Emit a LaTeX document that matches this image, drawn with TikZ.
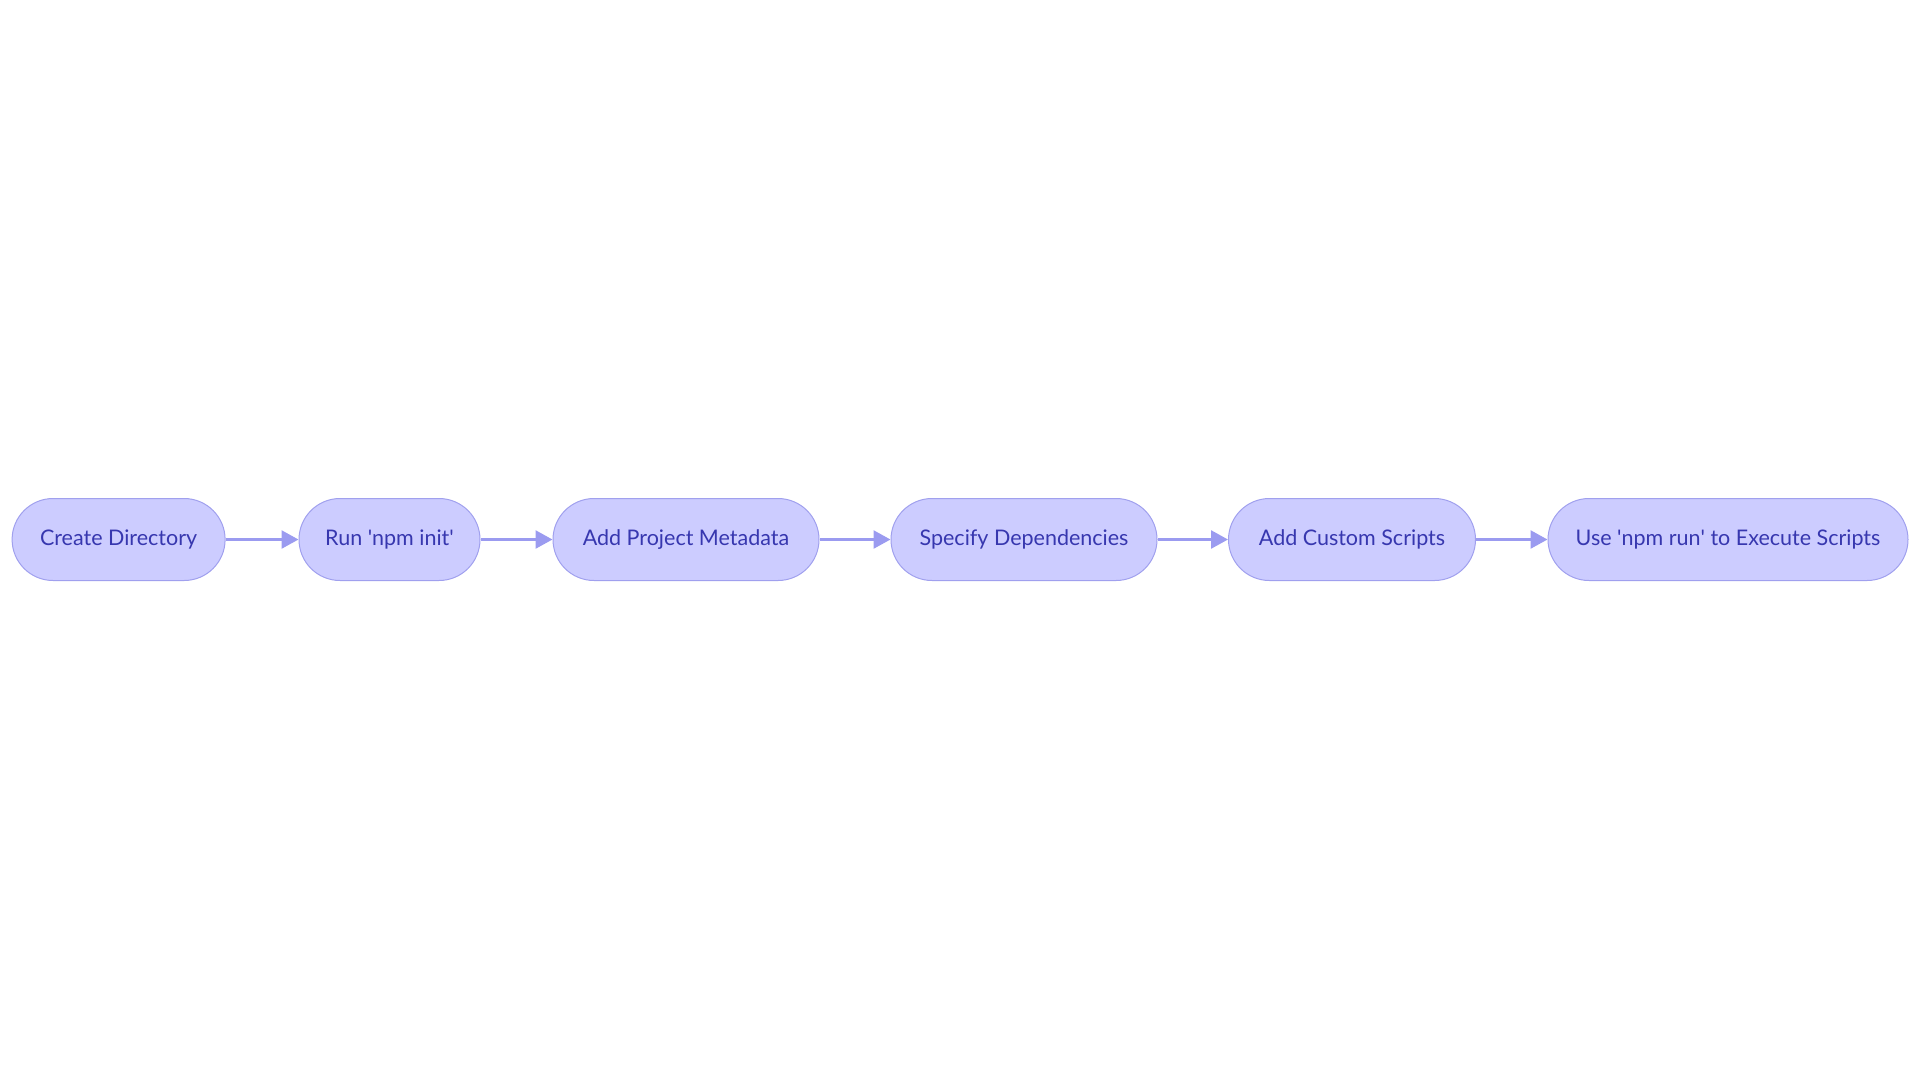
\documentclass[tikz,border=0pt]{standalone}
\usepackage{fontspec}
\setmainfont{Lato}
\usetikzlibrary{arrows.meta}
\definecolor{nodefill}{RGB}{204,204,255}
\definecolor{nodeline}{RGB}{160,160,238}
\definecolor{arrowcol}{RGB}{155,155,240}
\definecolor{textcol}{RGB}{55,55,175}
\newcommand{\sq}{\textquotesingle}
\tikzset{
  stepbox/.style={draw=nodeline, line width=1pt, fill=nodefill, rounded corners=41pt,
    minimum height=82pt, inner sep=0pt, text=textcol,
    font=\fontsize{21.5}{26}\selectfont},
  flow/.style={draw=arrowcol, line width=2.6pt, -{Triangle[length=17pt,width=18pt]}}
}
\begin{document}
\begin{tikzpicture}[x=1pt,y=-1pt]
\useasboundingbox (0,0) rectangle (1920,1080);
\node[stepbox, minimum width=213pt] (a) at (118.6,539.5) {\raisebox{-1pt}{Create Directory}};
\node[stepbox, minimum width=181pt] (b) at (389.5,539.5) {\raisebox{-1pt}{Run \sq npm init\sq}};
\node[stepbox, minimum width=266pt] (c) at (686,539.5) {\raisebox{-1pt}{Add Project Metadata}};
\node[stepbox, minimum width=266pt] (d) at (1024,539.5) {\raisebox{-1pt}{Specify Dependencies}};
\node[stepbox, minimum width=247pt] (e) at (1352,539.5) {\raisebox{-1pt}{Add Custom Scripts}};
\node[stepbox, minimum width=360pt] (f) at (1728,539.5) {\raisebox{-1pt}{Use \sq npm run\sq{} to Execute Scripts}};
\draw[flow] (a) -- (b);
\draw[flow] (b) -- (c);
\draw[flow] (c) -- (d);
\draw[flow] (d) -- (e);
\draw[flow] (e) -- (f);
\end{tikzpicture}
\end{document}
